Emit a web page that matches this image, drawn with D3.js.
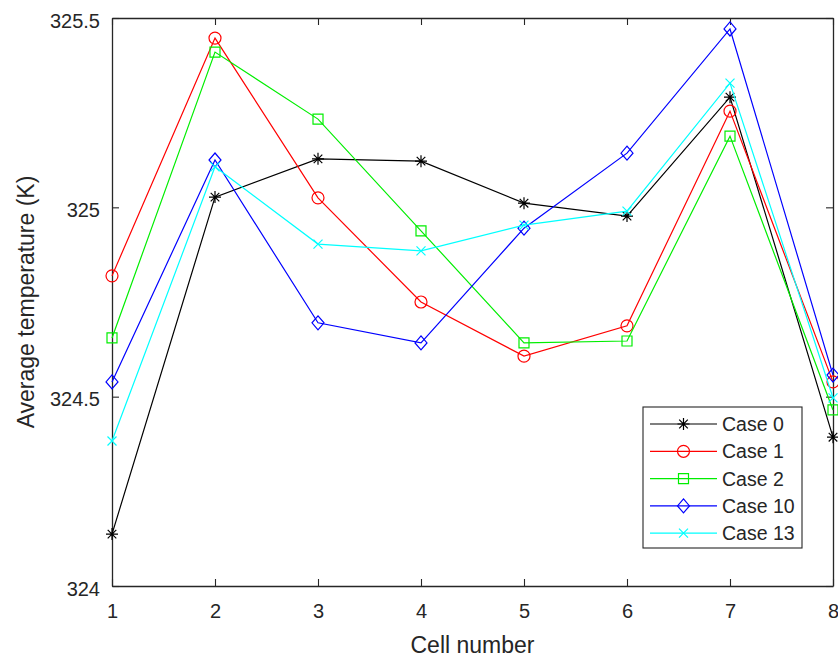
<!DOCTYPE html>
<html>
<head>
<meta charset="utf-8">
<script src="https://cdn.jsdelivr.net/npm/d3@7/dist/d3.min.js"></script>
<style>
  html, body { margin: 0; padding: 0; background: #fff; }
  svg { display: block; font-family: "Liberation Sans", Arial, sans-serif; }
</style>
</head>
<body>
<svg id="chart" width="838" height="657"></svg>
<script>
// Cell numbers along the x axis
const cells = [1, 2, 3, 4, 5, 6, 7, 8];

// Average temperature (K) per cell for each case
const case0  = [324.137, 325.027, 325.128, 325.122, 325.011, 324.977, 325.291, 324.393];
const case1  = [324.819, 325.447, 325.025, 324.750, 324.607, 324.687, 325.254, 324.539];
const case2  = [324.655, 325.410, 325.233, 324.938, 324.642, 324.647, 325.188, 324.465];
const case10 = [324.539, 325.125, 324.695, 324.642, 324.945, 325.143, 325.471, 324.557];
const case13 = [324.383, 325.107, 324.903, 324.885, 324.953, 324.990, 325.328, 324.497];

const seriesNames = ["Case 0", "Case 1", "Case 2", "Case 10", "Case 13"];
const xTickLabels = ["1", "2", "3", "4", "5", "6", "7", "8"];
const yTicks = [324, 324.5, 325, 325.5];
const yTickLabels = ["324", "324.5", "325", "325.5"];

const series = [
  { name: seriesNames[0], values: case0,  color: "#000000", marker: "star" },
  { name: seriesNames[1], values: case1,  color: "#ff0000", marker: "circle" },
  { name: seriesNames[2], values: case2,  color: "#00ee00", marker: "square" },
  { name: seriesNames[3], values: case10, color: "#0000ff", marker: "diamond" },
  { name: seriesNames[4], values: case13, color: "#00ffff", marker: "cross" }
];

const svg = d3.select("#chart");
const plotL = 112, plotR = 833, plotT = 18, plotB = 586;
const axisColor = "#262626";
const tickLen = 7;

const x = d3.scaleLinear().domain([1, 8]).range([plotL, plotR]);
const y = d3.scaleLinear().domain([324, 325.5]).range([plotB, plotT]);

// Marker path generators (centered at 0,0)
function markerPath(type) {
  switch (type) {
    case "star": {
      const s = 6, d = 4.3;
      return `M${-s},0L${s},0M0,${-s}L0,${s}M${-d},${-d}L${d},${d}M${-d},${d}L${d},${-d}`;
    }
    case "circle": {
      const r = 6;
      return `M${r},0A${r},${r} 0 1,1 ${-r},0A${r},${r} 0 1,1 ${r},0Z`;
    }
    case "square": {
      const s = 5;
      return `M${-s},${-s}L${s},${-s}L${s},${s}L${-s},${s}Z`;
    }
    case "diamond": {
      const w = 6, h = 7;
      return `M0,${-h}L${w},0L0,${h}L${-w},0Z`;
    }
    case "cross": {
      const s = 4.5;
      return `M${-s},${-s}L${s},${s}M${-s},${s}L${s},${-s}`;
    }
  }
}

// Axes with inward ticks on all four sides (box)
const fmtY = v => yTickLabels[yTicks.indexOf(v)];
const fmtX = v => xTickLabels[cells.indexOf(v)];

const gBottom = svg.append("g").attr("transform", `translate(0,${plotB})`)
  .call(d3.axisBottom(x).tickValues(cells).tickFormat(fmtX).tickSizeInner(-tickLen).tickSizeOuter(0).tickPadding(17));
const gLeft = svg.append("g").attr("transform", `translate(${plotL},0)`)
  .call(d3.axisLeft(y).tickValues(yTicks).tickFormat(fmtY).tickSizeInner(-tickLen).tickSizeOuter(0).tickPadding(12));
const gTop = svg.append("g").attr("transform", `translate(0,${plotT})`)
  .call(d3.axisTop(x).tickValues(cells).tickFormat("").tickSizeInner(-tickLen).tickSizeOuter(0));
const gRight = svg.append("g").attr("transform", `translate(${plotR},0)`)
  .call(d3.axisRight(y).tickValues(yTicks).tickFormat("").tickSizeInner(-tickLen).tickSizeOuter(0));

[gBottom, gLeft, gTop, gRight].forEach(g => {
  g.select(".domain").attr("stroke", axisColor).attr("stroke-width", 1.3);
  g.selectAll(".tick line").attr("stroke", axisColor).attr("stroke-width", 1.1);
  g.selectAll(".tick text").attr("fill", axisColor).attr("font-size", 20)
    .attr("font-family", "'Liberation Sans', Arial, sans-serif");
});
gLeft.selectAll(".tick text").attr("dy", "0.45em");
gBottom.selectAll(".tick text").attr("dy", "0.75em");

// Axis titles
svg.append("text")
  .attr("x", (plotL + plotR) / 2).attr("y", 653)
  .attr("text-anchor", "middle").attr("fill", axisColor).attr("font-size", 23)
  .text("Cell number");
svg.append("text")
  .attr("transform", `translate(34,${(plotT + plotB) / 2}) rotate(-90)`)
  .attr("text-anchor", "middle").attr("fill", axisColor).attr("font-size", 23)
  .text("Average temperature (K)");

// Lines and markers
const line = d3.line().x((d, i) => x(cells[i])).y(d => y(d));
series.forEach(s => {
  const g = svg.append("g");
  g.append("path").attr("d", line(s.values))
    .attr("fill", "none").attr("stroke", s.color).attr("stroke-width", 1.2);
  g.selectAll("path.m").data(s.values).enter().append("path")
    .attr("class", "m")
    .attr("transform", (d, i) => `translate(${x(cells[i])},${y(d)})`)
    .attr("d", markerPath(s.marker))
    .attr("fill", "none").attr("stroke", s.color).attr("stroke-width", 1.2);
});

// Legend
const lg = svg.append("g");
lg.append("rect").attr("x", 643).attr("y", 407).attr("width", 159).attr("height", 141)
  .attr("fill", "#fff").attr("stroke", axisColor).attr("stroke-width", 1.1);
series.forEach((s, i) => {
  const cy = 424 + i * 27.3;
  lg.append("line").attr("x1", 650).attr("x2", 717).attr("y1", cy).attr("y2", cy)
    .attr("stroke", s.color).attr("stroke-width", 1.2);
  lg.append("path").attr("transform", `translate(683.5,${cy})`).attr("d", markerPath(s.marker))
    .attr("fill", "none").attr("stroke", s.color).attr("stroke-width", 1.2);
  lg.append("text").attr("x", 722).attr("y", cy).attr("dy", "0.36em")
    .attr("fill", axisColor).attr("font-size", 19.5).text(s.name);
});
</script>
</body>
</html>
